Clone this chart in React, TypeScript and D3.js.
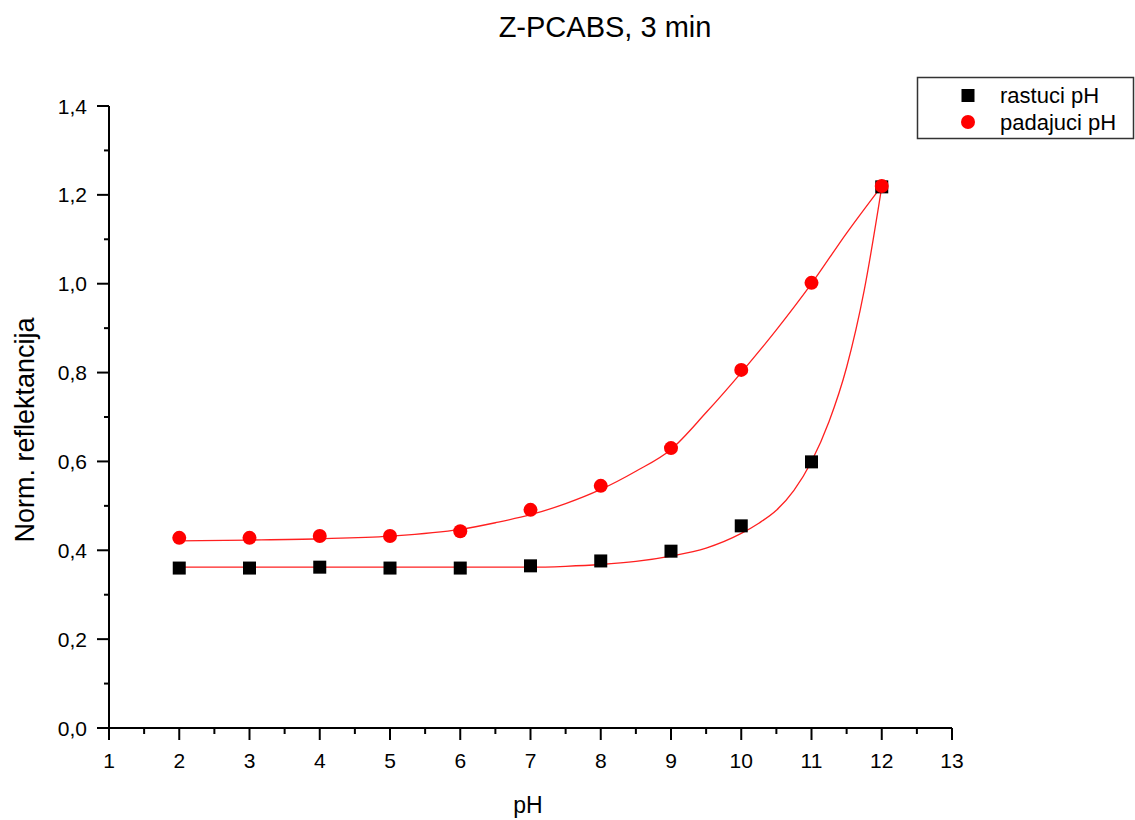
import React from "react";
import * as d3 from "d3";

const phValues = [2, 3, 4, 5, 6, 7, 8, 9, 10, 11, 12];
const rastuci = [0.36, 0.36, 0.362, 0.36, 0.36, 0.365, 0.376, 0.398, 0.455, 0.599, 1.218];
const padajuci = [0.428, 0.428, 0.432, 0.432, 0.443, 0.491, 0.545, 0.63, 0.806, 1.002, 1.22];

// fitted curves
const fitRastX = [2, 3, 4, 5, 6, 7, 7.5, 8, 8.5, 9, 9.5, 10, 10.25, 10.5, 10.75, 11, 11.25, 11.5, 11.75, 12];
const fitRastY = [0.362, 0.362, 0.362, 0.362, 0.362, 0.362, 0.364, 0.368, 0.375, 0.387, 0.405, 0.438, 0.461, 0.49, 0.535, 0.6, 0.69, 0.812, 0.985, 1.218];
const fitPadX = [2, 3, 4, 5, 6, 6.5, 7, 7.5, 8, 8.5, 9, 9.5, 10, 10.5, 11, 11.5, 12];
const fitPadY = [0.421, 0.423, 0.426, 0.432, 0.447, 0.462, 0.48, 0.505, 0.537, 0.578, 0.627, 0.71, 0.8, 0.896, 1.0, 1.114, 1.22];

const xTicks = [1, 2, 3, 4, 5, 6, 7, 8, 9, 10, 11, 12, 13];
const yTicks = [0, 0.2, 0.4, 0.6, 0.8, 1.0, 1.2, 1.4];

const W = 1135;
const H = 820;
const FONT = "Arial, 'Liberation Sans', sans-serif";

export default function App() {
  const x = d3.scaleLinear().domain([1, 13]).range([109, 952]);
  const y = d3.scaleLinear().domain([0, 1.4]).range([728, 106]);
  const xMinor = d3.range(1.5, 13, 1);
  const yMinor = d3.range(0.1, 1.4, 0.2);
  const fmt = (v: number) => v.toFixed(1).replace(".", ",");

  const line = d3
    .line<[number, number]>()
    .x((d) => x(d[0]))
    .y((d) => y(d[1]))
    .curve(d3.curveMonotoneX);

  const rastFit = line(fitRastX.map((v, i) => [v, fitRastY[i]] as [number, number])) || "";
  const padFit = line(fitPadX.map((v, i) => [v, fitPadY[i]] as [number, number])) || "";

  const x0 = x(1);
  const y0 = y(0);

  return (
    <svg
      width={W}
      height={H}
      style={{ position: "absolute", left: 0, top: 0, background: "#fff" }}
      fontFamily={FONT}
    >
      <rect x={0} y={0} width={W} height={H} fill="#fff" />
      <text x={605} y={37} textAnchor="middle" fontSize={29} fill="#000">
        Z-PCABS, 3 min
      </text>

      {/* fit lines */}
      <path d={rastFit} fill="none" stroke="#ff2020" strokeWidth={1.3} />
      <path d={padFit} fill="none" stroke="#ff2020" strokeWidth={1.3} />

      {/* markers */}
      {phValues.map((p, i) => (
        <rect
          key={"s" + i}
          x={x(p) - 6.5}
          y={y(rastuci[i]) - 6.5}
          width={13}
          height={13}
          fill="#000"
        />
      ))}
      {phValues.map((p, i) => (
        <circle key={"c" + i} cx={x(p)} cy={y(padajuci[i])} r={7} fill="#ff0000" />
      ))}

      {/* axes */}
      <line x1={x0} y1={y(1.4)} x2={x0} y2={y0} stroke="#000" strokeWidth={2} />
      <line x1={x0} y1={y0} x2={x(13)} y2={y0} stroke="#000" strokeWidth={2} />
      {xTicks.map((t) => (
        <g key={"xt" + t}>
          <line x1={x(t)} x2={x(t)} y1={y0} y2={y0 + 12} stroke="#000" strokeWidth={2} />
          <text x={x(t)} y={768} textAnchor="middle" fontSize={21} fill="#000">
            {t}
          </text>
        </g>
      ))}
      {xMinor.map((t) => (
        <line key={"xm" + t} x1={x(t)} x2={x(t)} y1={y0} y2={y0 + 6} stroke="#000" strokeWidth={2} />
      ))}
      {yTicks.map((t) => (
        <g key={"yt" + t}>
          <line x1={x0 - 12} x2={x0} y1={y(t)} y2={y(t)} stroke="#000" strokeWidth={2} />
          <text x={87} y={y(t) + 7.5} textAnchor="end" fontSize={21} fill="#000">
            {fmt(t)}
          </text>
        </g>
      ))}
      {yMinor.map((t) => (
        <line key={"ym" + t} x1={x0 - 5} x2={x0} y1={y(t)} y2={y(t)} stroke="#000" strokeWidth={2} />
      ))}

      {/* axis titles */}
      <text x={528} y={813} textAnchor="middle" fontSize={23} fill="#000">
        pH
      </text>
      <text
        transform={`translate(34,430) rotate(-90)`}
        textAnchor="middle"
        fontSize={27}
        fill="#000"
      >
        Norm. reflektancija
      </text>

      {/* legend */}
      <rect x={917.5} y={77.5} width={216} height={61} fill="#fff" stroke="#333" strokeWidth={1.5} />
      <rect x={961.5} y={89} width={13} height={13} fill="#000" />
      <circle cx={968} cy={122} r={7} fill="#ff0000" />
      <text x={1000} y={103} fontSize={22} fill="#000">
        rastuci pH
      </text>
      <text x={1000} y={130} fontSize={22} fill="#000">
        padajuci pH
      </text>
    </svg>
  );
}
